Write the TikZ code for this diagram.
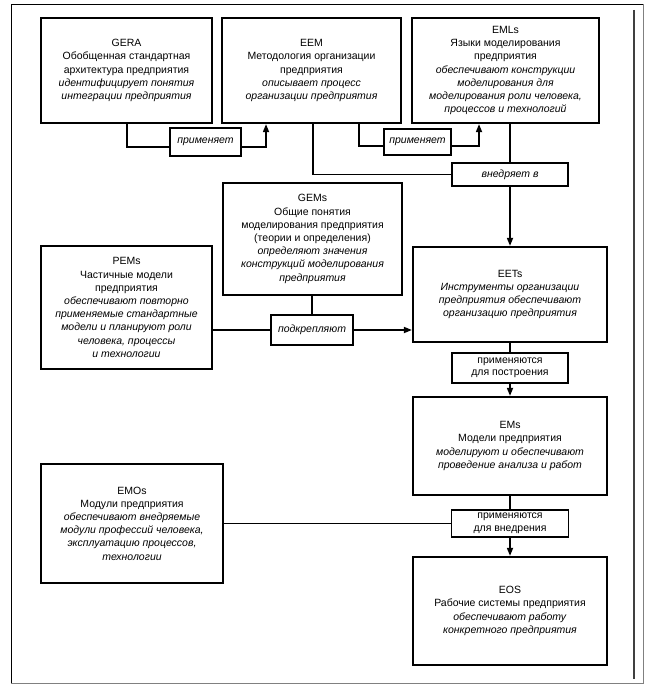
\documentclass[tikz,border=0pt]{standalone}
\usepackage{fontspec}
\setmainfont{Liberation Sans}
\usetikzlibrary{arrows.meta,backgrounds}
\begin{document}
\begin{tikzpicture}[x=1pt,y=-1pt,
  box/.style={draw,line width=2.2pt,fill=white,align=center,inner sep=0pt,
    font=\fontsize{10.5}{13.2}\selectfont},
  lbl/.style={draw,line width=1.6pt,fill=white,align=center,inner sep=0pt,
    font=\fontsize{10.5}{12.5}\selectfont},
  conn/.style={line width=1.6pt},
  arr/.style={conn,-{Triangle[length=8pt,width=6pt]}}]
\useasboundingbox (0,0) rectangle (653,692);
% frame
\draw[line width=0.8pt] (11,683) -- (11,4.5) -- (643,4.5);
\draw[gray,line width=1pt] (643,4.5) -- (643,683) -- (11,683);
\draw[line width=2.5pt,black!75] (634,10) -- (634,679);
% boxes
\node[box,minimum width=171pt,minimum height=105pt] (gera) at (126.5,70.5)
 {GERA\\Обобщенная стандартная\\архитектура предприятия\\\textit{идентифицирует понятия}\\\textit{интеграции предприятия}};
\node[box,minimum width=179pt,minimum height=105pt] (eem) at (311.5,70.5)
 {EEM\\Методология организации\\предприятия\\\textit{описывает процесс}\\\textit{организации предприятия}};
\node[box,minimum width=187pt,minimum height=105pt] (emls) at (505.5,70.5)
 {EMLs\\Языки моделирования\\предприятия\\\textit{обеспечивают конструкции}\\\textit{моделирования для}\\\textit{моделирования роли человека,}\\\textit{процессов и технологий}};
\node[box,minimum width=179pt,minimum height=112pt] (gems) at (312.5,239)
 {GEMs\\Общие понятия\\моделирования предприятия\\(теории и определения)\\\textit{определяют значения}\\\textit{конструкций моделирования}\\\textit{предприятия}};
\node[box,minimum width=171pt,minimum height=123pt] (pems) at (126.5,307.5)
 {PEMs\\Частичные модели\\предприятия\\\textit{обеспечивают повторно}\\\textit{применяемые стандартные}\\\textit{модели и планируют роли}\\\textit{человека, процессы}\\\textit{и технологии}};
\node[box,minimum width=194pt,minimum height=95pt] (eets) at (510,294.5)
 {EETs\\\textit{Инструменты организации}\\\textit{предприятия обеспечивают}\\\textit{организацию предприятия}};
\node[box,minimum width=194pt,minimum height=98pt] (ems) at (510,446)
 {EMs\\Модели предприятия\\\textit{моделируют и обеспечивают}\\\textit{проведение анализа и работ}};
\node[box,minimum width=194pt,minimum height=108pt] (eos) at (510,611)
 {EOS\\Рабочие системы предприятия\\\textit{обеспечивают работу}\\\textit{конкретного предприятия}};
\node[box,minimum width=182pt,minimum height=119pt] (emos) at (132,523.5)
 {EMOs\\Модули предприятия\\\textit{обеспечивают внедряемые}\\\textit{модули профессий человека,}\\\textit{эксплуатацию процессов,}\\\textit{технологии}};
% label boxes
\node[lbl,minimum width=71pt,minimum height=28pt] (l1) at (205.5,142) {\textit{применяет}};
\node[lbl,minimum width=67pt,minimum height=26pt] (l2) at (417.5,142) {\textit{применяет}};
\node[lbl,minimum width=116pt,minimum height=23pt] (l3) at (510,174.5) {\textit{внедряет в}};
\node[lbl,minimum width=82pt,minimum height=30pt] (l4) at (312,330) {\textit{подкрепляют}};
\node[lbl,minimum width=116pt,minimum height=30pt] (l5) at (510,368) {применяются\\для построения};
\node[lbl,minimum width=117pt,minimum height=27pt] (l6) at (510,523.5) {применяются\\для внедрения};
% connectors
\begin{scope}[on background layer]
\draw[arr] (127,0 |- gera.south) |- (266,147) -- (266,0 |- eem.south);
\draw[arr] (359,0 |- eem.south) |- (479,146) -- (479,0 |- emls.south);
\draw[conn] (313,0 |- eem.south) |- (l3.west);
\draw[conn] (l3.north |- emls.south) -- (l3.north);
\draw[arr] (l3.south) -- (eets.north);
\draw[conn] (l4.north |- gems.south) -- (l4.north);
\draw[arr] (pems.east |- l4.west) -- (eets.west |- l4.east);
\draw[conn] (eets.south) -- (l5.north);
\draw[arr] (l5.south) -- (ems.north);
\draw[conn] (ems.south) -- (l6.north);
\draw[arr] (l6.south) -- (eos.north);
\draw[conn] (emos.east |- l6.west) -- (l6.west);
\end{scope}
\end{tikzpicture}
\end{document}
